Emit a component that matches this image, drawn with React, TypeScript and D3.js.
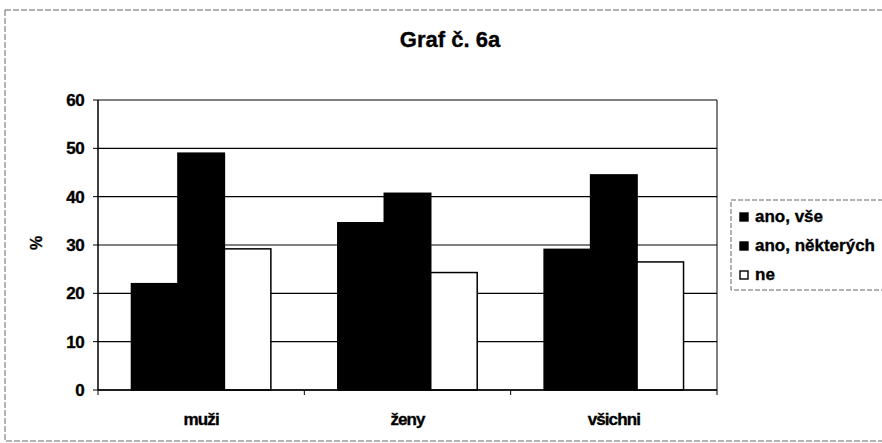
import React from "react";
import * as d3 from "d3";

const categories = ["muži", "ženy", "všichni"];
const seriesNames = ["ano, vše", "ano, některých", "ne"];
const anoVse = [22, 34.6, 29.1];
const anoNekterych = [49, 40.7, 44.5];
const ne = [29.2, 24.3, 26.5];
const yTicks = [0, 10, 20, 30, 40, 50, 60];
const seriesFills = ["#000", "#000", "#fff"];

export default function App() {
  const W = 882, H = 443;
  const left = 98, right = 717, top = 100, bottom = 390;
  const seriesValues = [anoVse, anoNekterych, ne];
  const x = d3.scaleBand<string>().domain(categories).range([left, right]).paddingInner(0).paddingOuter(0);
  const inner = d3.scaleBand<string>().domain(seriesNames).range([0, x.bandwidth()]).paddingInner(0).paddingOuter(0.72);
  const y = d3.scaleLinear().domain([0, 60]).range([bottom, top]);
  const font = "'Liberation Sans', Arial, sans-serif";
  const txt = { fontWeight: "bold" as const, stroke: "#000", strokeWidth: 0.35 };
  return (
    <svg width={W} height={H} style={{ position: "absolute", left: 0, top: 0, background: "#fff" }} fontFamily={font}>
      <rect x={5} y={10} width={880} height={431} fill="none" stroke="#666" strokeWidth={1} strokeDasharray="6,2" />
      <text x={450} y={47} textAnchor="middle" fontSize={22} letterSpacing={0} {...txt}>Graf č. 6a</text>
      {/* gridlines */}
      {yTicks.map((t) => (
        <line key={"g" + t} x1={left} x2={right} y1={y(t)} y2={y(t)} stroke="#000" strokeWidth={1.2} />
      ))}
      <line x1={right} x2={right} y1={top} y2={bottom} stroke="#000" strokeWidth={1} />
      {/* bars */}
      {categories.map((c, ci) =>
        seriesNames.map((s, si) => {
          const v = seriesValues[si][ci];
          const bx = (x(c) as number) + (inner(s) as number);
          return (
            <rect key={c + s} x={bx} y={y(v)} width={inner.bandwidth()} height={bottom - y(v)}
              fill={seriesFills[si]} stroke="#000" strokeWidth={1.5} />
          );
        })
      )}
      {/* axes */}
      <line x1={left} x2={left} y1={top} y2={bottom} stroke="#000" strokeWidth={1.5} />
      <line x1={left} x2={right} y1={bottom} y2={bottom} stroke="#000" strokeWidth={1.5} />
      {yTicks.map((t) => (
        <g key={"t" + t}>
          <line x1={left - 5} x2={left} y1={y(t)} y2={y(t)} stroke="#000" strokeWidth={1} />
          <text x={84} y={y(t) + 6} textAnchor="end" fontSize={17} letterSpacing={-0.6} {...txt}>{t}</text>
        </g>
      ))}
      {[...categories.map((c) => x(c) as number), right].map((p, i) => (
        <line key={"xt" + i} x1={p} x2={p} y1={bottom} y2={bottom + 5} stroke="#000" strokeWidth={1} />
      ))}
      {categories.map((c) => (
        <text key={"xl" + c} x={(x(c) as number) + x.bandwidth() / 2} y={425} textAnchor="middle" fontSize={17} letterSpacing={-0.9} {...txt}>{c}</text>
      ))}
      <text transform={`translate(42,243) rotate(-90)`} textAnchor="middle" fontSize={16} {...txt}>%</text>
      {/* legend */}
      <rect x={731} y={200} width={155} height={90} fill="#fff" stroke="#666" strokeWidth={1} strokeDasharray="5,2" />
      {seriesNames.map((s, i) => (
        <g key={"l" + s}>
          <rect x={740} y={213 + i * 29} width={8} height={8} fill={seriesFills[i]} stroke="#000" strokeWidth={1.4} />
          <text x={755} y={222 + i * 29} fontSize={17} letterSpacing={0} {...txt}>{s}</text>
        </g>
      ))}
    </svg>
  );
}
